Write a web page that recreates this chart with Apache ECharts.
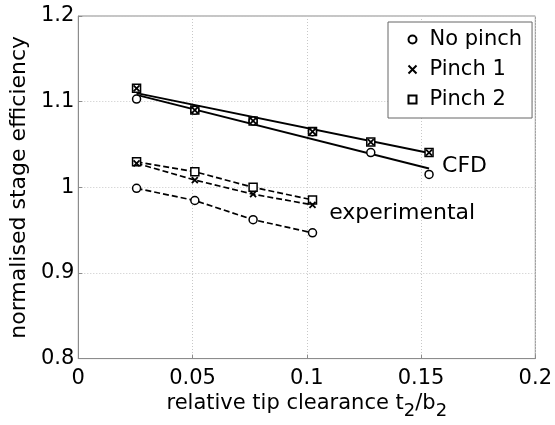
<!DOCTYPE html>
<html>
<head>
<meta charset="utf-8">
<script src="https://cdn.jsdelivr.net/npm/echarts@6/dist/echarts.min.js"></script>
<style>html,body{margin:0;padding:0;background:#fff}#c{width:555px;height:425px}</style>
</head>
<body>
<div id="c"></div>
<script>
// x positions (relative tip clearance t2/b2)
const clearanceCfd = [0.0255, 0.051, 0.0765, 0.1025, 0.128, 0.1535];
const clearanceExp = [0.0255, 0.051, 0.0765, 0.1025];
// CFD markers
const cfdNoPinch = [1.103, 1.090, 1.0775, 1.065, 1.0405, 1.015];
const cfdPinch1  = [1.1156, 1.0902, 1.0775, 1.0651, 1.0528, 1.0405];
const cfdPinch2  = [1.1156, 1.0902, 1.0775, 1.0651, 1.0528, 1.0405];
// CFD trend lines (end points)
const cfdFitX = [0.0255, 0.1535];
const cfdFitNoPinch = [1.108, 1.022];
const cfdFitPinch = [1.110, 1.040];
// experimental
const expNoPinch = [0.9988, 0.9846, 0.9622, 0.9468];
const expPinch1  = [1.028, 1.0085, 0.9919, 0.9795];
const expPinch2  = [1.0297, 1.0182, 1.0000, 0.9853];
// annotations
const annotations = [
  {text: 'CFD', x: 0.1592, y: 1.0243},
  {text: 'experimental', x: 0.1098, y: 0.970}
];
const xTicks = {min: 0, max: 0.2, interval: 0.05};
const yTicks = {min: 0.8, max: 1.2, interval: 0.1};

const FONT = 'DejaVu Sans';
const zip = (xs, ys) => xs.map((x, i) => [x, ys[i]]);
const markerStyle = {color: '#fff', borderColor: '#000', borderWidth: 1.5, opacity: 1};
const xPath = 'path://M0,0L10,10M10,0L0,10';

const chart = echarts.init(document.getElementById('c'), null, {renderer: 'canvas'});
const lineS = (data, dashed) => ({
  type: 'line', data, symbol: 'none', silent: true, z: 2,
  lineStyle: {color: '#000', width: dashed ? 1.7 : 1.9, opacity: 1, type: dashed ? [6, 3] : 'solid'}
});
const scat = (name, data, symbol, size) => ({
  type: 'scatter', name, data, symbol, symbolSize: size, z: 3,
  itemStyle: Object.assign({}, markerStyle, symbol === xPath ? {color: 'none', borderWidth: 1.8} : {})
});

chart.setOption({
  animation: false,
  backgroundColor: '#fff',
  textStyle: {fontFamily: FONT},
  grid: {left: 76, right: 18, top: 16, bottom: 63, show: true, borderColor: '#8c8c8c', borderWidth: 1},
  legend: {
    orient: 'vertical', left: 388, top: 22, width: 142,
    padding: [7, 10, 8, 18], itemGap: 9, itemWidth: 8, itemHeight: 8,
    backgroundColor: '#fff', borderColor: '#666', borderWidth: 1,
    textStyle: {fontFamily: FONT, fontSize: 21, color: '#000', padding: [0, 0, 0, 8]},
    data: ['No pinch', 'Pinch 1', 'Pinch 2']
  },
  xAxis: {
    type: 'value', min: xTicks.min, max: xTicks.max, interval: xTicks.interval,
    name: 'relative tip clearance t{s|2}/b{s|2}', nameLocation: 'middle', nameGap: 25,
    nameTextStyle: {fontFamily: FONT, fontSize: 21, color: '#000', verticalAlign: 'top',
      rich: {s: {fontFamily: FONT, fontSize: 18, color: '#000', padding: [14, 0, 0, 0]}}},
    axisLine: {show: true, lineStyle: {color: '#8c8c8c'}},
    axisTick: {show: true, inside: true, length: 4, lineStyle: {color: '#8c8c8c'}},
    axisLabel: {fontFamily: FONT, fontSize: 21, color: '#000', margin: 9},
    splitLine: {show: true, lineStyle: {color: '#c8c8c8', type: [1, 2]}}
  },
  yAxis: {
    type: 'value', min: yTicks.min, max: yTicks.max, interval: yTicks.interval,
    name: 'normalised stage efficiency', nameLocation: 'middle', nameGap: 43,
    nameTextStyle: {fontFamily: FONT, fontSize: 22, color: '#000'},
    axisLine: {show: true, lineStyle: {color: '#8c8c8c'}},
    axisTick: {show: true, inside: true, length: 4, lineStyle: {color: '#8c8c8c'}},
    axisLabel: {fontFamily: FONT, fontSize: 21, color: '#000', margin: 4},
    splitLine: {show: true, lineStyle: {color: '#c8c8c8', type: [1, 2]}}
  },
  series: [
    lineS(zip(cfdFitX, cfdFitNoPinch), false),
    lineS(zip(cfdFitX, cfdFitPinch), false),
    lineS(zip(clearanceExp, expNoPinch), true),
    lineS(zip(clearanceExp, expPinch1), true),
    lineS(zip(clearanceExp, expPinch2), true),
    scat('Pinch 2', zip(clearanceCfd, cfdPinch2), 'rect', 8),
    scat('Pinch 2', zip(clearanceExp, expPinch2), 'rect', 8),
    scat('No pinch', zip(clearanceCfd, cfdNoPinch), 'circle', 8),
    scat('No pinch', zip(clearanceExp, expNoPinch), 'circle', 8),
    scat('Pinch 1', zip(clearanceCfd, cfdPinch1), xPath, 6),
    scat('Pinch 1', zip(clearanceExp, expPinch1), xPath, 6),
    {
      type: 'scatter', silent: true, symbolSize: 0, z: 4,
      itemStyle: {opacity: 1},
      data: annotations.map(a => ({value: [a.x, a.y], label: {formatter: a.text}})),
      label: {show: true, position: 'right', distance: 0, fontFamily: FONT, fontSize: 22, color: '#000', opacity: 1}
    }
  ]
});
</script>
</body>
</html>
